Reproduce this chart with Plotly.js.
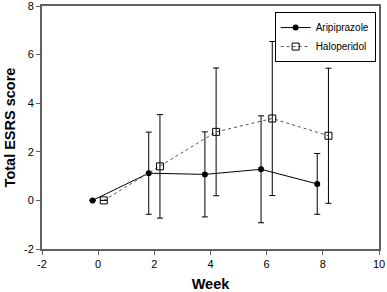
<!DOCTYPE html>
<html>
<head>
<meta charset="utf-8">
<script src="https://cdn.plot.ly/plotly-3.0.1.min.js"></script>
<style>
html,body{margin:0;padding:0;background:#fff;}
#chart{width:387px;height:292px;}
</style>
</head>
<body>
<div id="chart"></div>
<script>
// Data
const weeks = [0, 2, 4, 6, 8];
const offsetArip = -0.2;
const offsetHalo = 0.2;
const aripMean = [0, 1.12, 1.07, 1.28, 0.68];
const aripSD   = [0, 1.69, 1.75, 2.2, 1.25];
const haloMean = [0, 1.40, 2.82, 3.37, 2.66];
const haloSD   = [0, 2.13, 2.63, 3.17, 2.78];
const xTicks = [-2, 0, 2, 4, 6, 8, 10];
const xTickText = ['-2', '0', '2', '4', '6', '8', '10'];
const yTicks = [-2, 0, 2, 4, 6, 8];
const yTickText = ['-2', '0', '2', '4', '6', '8'];

const fontFam = 'Liberation Sans, Arial, sans-serif';

const traces = [
  {
    name: 'Aripiprazole',
    x: weeks.map(w => w + offsetArip),
    y: aripMean,
    mode: 'lines+markers',
    line: {color: '#000', width: 1},
    marker: {symbol: 'circle', size: 6, color: '#000'},
    error_y: {type: 'data', array: aripSD, visible: true, color: '#000', thickness: 1, width: 3}
  },
  {
    name: 'Haloperidol',
    x: weeks.map(w => w + offsetHalo),
    y: haloMean,
    mode: 'lines+markers',
    line: {color: '#555', width: 1, dash: 'dot'},
    marker: {symbol: 'square-open', size: 7, color: '#000', line: {width: 1}},
    error_y: {type: 'data', array: haloSD, visible: true, color: '#000', thickness: 1, width: 3}
  }
];

const axisCommon = {
  showline: true, mirror: true, linecolor: '#606060', linewidth: 2,
  ticks: 'outside', ticklen: 4, tickwidth: 1, tickcolor: '#606060',
  showgrid: false, zeroline: false, ticklabeloverflow: 'allow',
  tickfont: {family: fontFam, size: 11, color: '#000'}
};

const layout = {
  width: 387, height: 292,
  margin: {l: 42, r: 8, t: 6, b: 43},
  paper_bgcolor: '#fff', plot_bgcolor: '#fff',
  showlegend: true,
  legend: {
    x: 0.99, y: 0.975, xanchor: 'right', yanchor: 'top',
    bordercolor: '#000', borderwidth: 1, bgcolor: 'rgba(255,255,255,0)',
    font: {family: fontFam, size: 10, color: '#000'},
    tracegroupgap: 0, itemwidth: 30
  },
  xaxis: Object.assign({}, axisCommon, {
    range: [-2, 10], tickvals: xTicks, ticktext: xTickText,
    title: {text: '<b>Week</b>', font: {family: fontFam, size: 14.5, color: '#000'}, standoff: 11}
  }),
  yaxis: Object.assign({}, axisCommon, {
    range: [-2, 8], tickvals: yTicks, ticktext: yTickText,
    title: {text: '<b>Total ESRS score</b>', font: {family: fontFam, size: 14.5, color: '#000'}, standoff: 5}
  })
};

Plotly.newPlot('chart', traces, layout, {displayModeBar: false, staticPlot: true});
</script>
</body>
</html>
